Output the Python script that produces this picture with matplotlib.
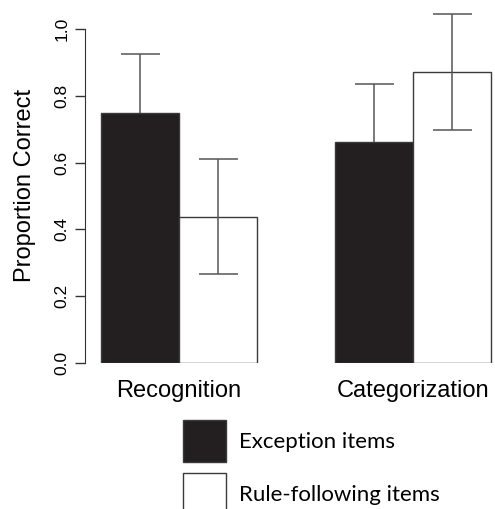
import matplotlib
matplotlib.use("Agg")
import matplotlib.pyplot as plt
import numpy as np

tasks = ["Recognition", "Categorization"]
series = ["Exception items", "Rule-following items"]
exception_mean = [0.75, 0.663]
exception_se = [0.175, 0.173]
rule_mean = [0.438, 0.872]
rule_se = [0.173, 0.173]
yticks = [0.0, 0.2, 0.4, 0.6, 0.8, 1.0]

plt.rcParams['font.family'] = ['Liberation Sans', 'DejaVu Sans']

W, H = 495, 509
fig = plt.figure(figsize=(W / 100, H / 100), dpi=100)
ax_left, ax_right = 85 / W, 1.0
ax_bottom = 1 - 363 / H
ymax = 1.08
ax_top = 1 - (363 - ymax * 334) / H
ax = fig.add_axes([ax_left, ax_bottom, ax_right - ax_left, ax_top - ax_bottom])

black = '#231f20'
edge = '#3a3a3a'
errc = '#555555'
width = 1.0
group_centers = np.array([2.0, 5.0])
x_exc = group_centers - width / 2
x_rule = group_centers + width / 2

b1 = ax.bar(x_exc, exception_mean, width, color=black, edgecolor=edge,
            linewidth=1.0, label=series[0], zorder=2)
b2 = ax.bar(x_rule, rule_mean, width, color='white', edgecolor=edge,
            linewidth=1.0, label=series[1], zorder=2)
ax.errorbar(x_exc, exception_mean, yerr=exception_se, fmt='none', ecolor=errc,
            elinewidth=1.1, capsize=19.5 * 0.72, capthick=1.1, zorder=1, clip_on=False)
ax.errorbar(x_rule, rule_mean, yerr=rule_se, fmt='none', ecolor=errc,
            elinewidth=1.1, capsize=19.5 * 0.72, capthick=1.1, zorder=3, clip_on=False)

ax.set_xlim(1 - 16 / 78, 1 + (W - 101) / 78)
ax.set_ylim(0, ymax)
for s in ['top', 'right', 'bottom']:
    ax.spines[s].set_visible(False)
ax.spines['left'].set_bounds(0, 1)
ax.spines['left'].set_color('#333333')
ax.set_yticks(yticks)
ax.set_yticklabels([f"{v:.1f}" for v in yticks], rotation=90, va='center')
ax.tick_params(axis='y', length=7, width=1, color='#333333', labelsize=12.5, pad=4)
ax.set_xticks(group_centers)
ax.set_xticklabels(tasks, fontsize=17)
ax.tick_params(axis='x', length=0, pad=12)
ax.set_ylabel("Proportion Correct", fontsize=17)
ax.yaxis.set_label_coords(-0.119, 0.493)

fs_pt = 16
fs_px = fs_pt * 100 / 72
hh = (42 / fs_px - 0.245) / 0.65
leg = fig.legend(handles=[b1, b2], labels=series, loc='upper left',
                 bbox_to_anchor=(183 / W, 1 - 420 / H), frameon=False,
                 borderpad=0, borderaxespad=0,
                 prop={'family': 'Lato', 'size': fs_pt},
                 handlelength=43 / fs_px, handleheight=hh,
                 handletextpad=13 / fs_px, labelspacing=11 / fs_px)

fig.savefig("out.png", dpi=100)
